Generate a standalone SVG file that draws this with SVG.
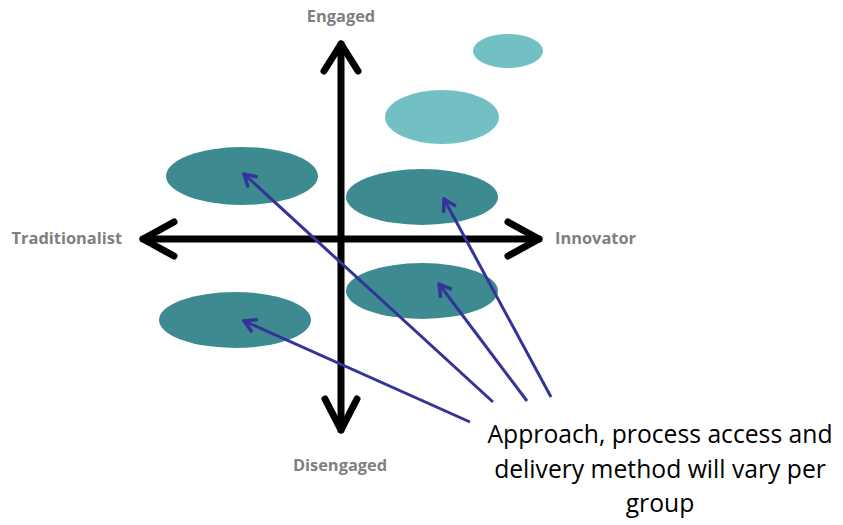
<svg xmlns="http://www.w3.org/2000/svg" width="843" height="525" viewBox="0 0 843 525">
<defs>
<style>
.lbl{font-family:"Open Sans","Liberation Sans",sans-serif;font-weight:bold;font-size:16.4px;fill:#7f7f7f}
.note{font-family:"Open Sans","Liberation Sans",sans-serif;font-size:24.7px;fill:#000}
.dark{fill:#3d8b90}
.light{fill:#72bfc4}
.axis{stroke:#000;stroke-width:7;fill:none;stroke-linecap:round;stroke-linejoin:round}
.ptr{stroke:#333399;stroke-width:3;fill:none}
</style>
<marker id="open" viewBox="0 0 18 18" refX="16" refY="9" markerWidth="18" markerHeight="18" markerUnits="userSpaceOnUse" orient="auto">
<path d="M4,2 L16,9 L4,16" fill="none" stroke="#333399" stroke-width="3.5" stroke-linejoin="miter"/>
</marker>
</defs>
<rect width="843" height="525" fill="#fff"/>
<g id="nodes">
<g id="n-top-small"><ellipse class="light" cx="508" cy="51" rx="35" ry="17"/></g>
<g id="n-top-mid"><ellipse class="light" cx="442" cy="117" rx="57" ry="27"/></g>
<g id="n-left-top"><ellipse class="dark" cx="242" cy="176" rx="76" ry="29"/></g>
<g id="n-right-top"><ellipse class="dark" cx="422" cy="197" rx="76" ry="28"/></g>
<g id="n-right-bottom"><ellipse class="dark" cx="422" cy="291" rx="76" ry="28"/></g>
<g id="n-left-bottom"><ellipse class="dark" cx="235" cy="320" rx="76" ry="28"/></g>
</g>
<g id="axes">
<line class="axis" x1="341" y1="44" x2="341" y2="430"/>
<path class="axis" d="M324,71 L341,44 L358,71"/>
<path class="axis" d="M325,399 L341,430 L357,399"/>
<line class="axis" x1="143" y1="239" x2="539" y2="239"/>
<path class="axis" d="M174,222 L143,239 L174,256"/>
<path class="axis" d="M508,222 L539,239 L508,256"/>
</g>
<g id="labels">
<text class="lbl" x="341" y="22" text-anchor="middle">Engaged</text>
<text class="lbl" x="122" y="244" text-anchor="end">Traditionalist</text>
<text class="lbl" x="555" y="244">Innovator</text>
<text class="lbl" x="340" y="471" text-anchor="middle">Disengaged</text>
</g>
<g id="connectors">
<line class="ptr" x1="493" y1="402" x2="244" y2="174" marker-end="url(#open)"/>
<line class="ptr" x1="527" y1="401" x2="439" y2="284" marker-end="url(#open)"/>
<line class="ptr" x1="551" y1="397" x2="444" y2="199" marker-end="url(#open)"/>
<line class="ptr" x1="470" y1="422" x2="244" y2="321" marker-end="url(#open)"/>
</g>
<g id="note">
<text class="note" text-anchor="middle" x="660" y="443">Approach, process access and</text>
<text class="note" text-anchor="middle" x="660" y="478">delivery method will vary per</text>
<text class="note" text-anchor="middle" x="660" y="512">group</text>
</g>
</svg>
